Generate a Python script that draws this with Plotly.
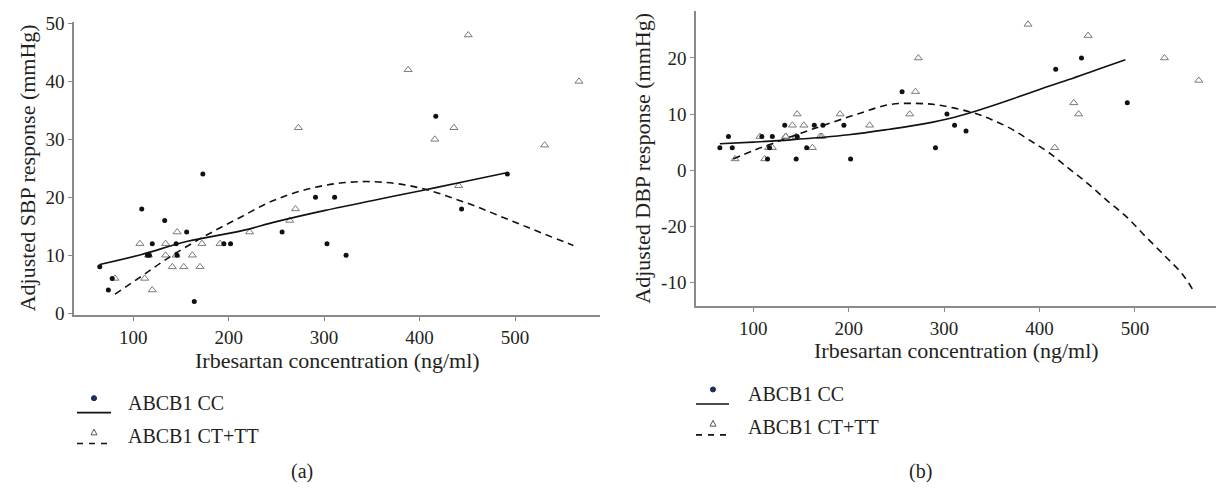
import plotly.graph_objects as go

W, H = 1216, 496

# ---------------- data ----------------
x_cc = [65, 74, 78, 109, 115, 117, 120, 133, 145, 146, 156, 164, 173, 195, 202,
        256, 291, 303, 311, 323, 417, 444, 492]
sbp_cc = [8, 4, 6, 18, 10, 10, 12, 16, 12, 10, 14, 2, 24, 12, 12,
          14, 20, 12, 20, 10, 34, 18, 24]
dbp_cc = [4, 6, 4, 6, 2, 4, 6, 8, 2, 6, 4, 8, 8, 8, 2,
          14, 4, 10, 8, 7, 18, 20, 12]

x_ct = [81, 107, 112, 116, 120, 134, 134, 141, 146, 145, 153, 162, 170, 172, 191,
        222, 264, 270, 273, 388, 416, 436, 441, 451, 531, 567]
sbp_ct = [6, 12, 6, 10, 4, 12, 10, 8, 14, 10, 8, 10, 8, 12, 12,
          14, 16, 18, 32, 42, 30, 32, 22, 48, 29, 40]
dbp_ct = [2, 6, 2, 4, 4, 6, 6, 8, 10, 6, 8, 4, 6, 6, 10,
          8, 10, 14, 20, 26, 4, 12, 10, 24, 20, 16]

# fitted curves
sbp_cc_fit_x = [65, 108, 157, 213, 250, 300, 350, 400, 450, 490]
sbp_cc_fit_y = [8.4, 10.1, 12.4, 14.2, 15.8, 17.7, 19.4, 21.1, 22.8, 24.2]
sbp_ct_fit_x = [81, 108, 130, 157, 185, 213, 242, 266, 290, 314, 338, 362, 386,
                410, 434, 458, 482, 506, 530, 561]
sbp_ct_fit_y = [3.3, 6.3, 8.8, 11.6, 14.2, 16.6, 19.1, 20.6, 21.7, 22.4, 22.7, 22.6,
                22.1, 21.2, 19.9, 18.5, 16.9, 15.3, 13.7, 11.7]

dbp_cc_fit_x = [65, 100, 139, 200, 243, 280, 310, 340, 370, 400, 430, 460, 490]
dbp_cc_fit_y = [4.7, 5.0, 5.4, 6.3, 7.3, 8.3, 9.4, 10.9, 12.6, 14.4, 16.1, 17.9, 19.7]
dbp_ct_fit_x = [79, 100, 121, 150, 174, 209, 243, 270, 290, 310, 333, 350, 370, 390,
                410, 430, 450, 470, 491, 511, 532, 550, 562]
dbp_ct_fit_y = [2.0, 3.5, 4.8, 6.6, 8.0, 10.0, 11.7, 11.9, 11.7, 11.1, 10.1, 9.0, 7.4,
                5.3, 3.1, 0.4, -2.3, -5.3, -8.3, -11.8, -15.4, -18.6, -21.7]

x_ticks = [100, 200, 300, 400, 500]
sbp_ticks = [0, 10, 20, 30, 40, 50]
dbp_tickvals = [20, 10, 0, -10, -20]
dbp_ticktext = ["20", "10", "0", "-20", "-10"]

series_names = ["ABCB1 CC", "ABCB1 CT+TT"]
panel_labels = ["(a)", "(b)"]
x_title = "Irbesartan concentration (ng/ml)"
y_titles = ["Adjusted SBP response (mmHg)", "Adjusted DBP response (mmHg)"]

# ---------------- styling ----------------
FONT = "'Liberation Serif', 'DejaVu Serif', serif"
TXT = "#231f20"
AX = "#8a8a8a"


def px(x):
    return x / W


def py(y):
    return 1 - y / H


fig = go.Figure()

dot = dict(symbol="circle", size=5, color="#111")
tri = dict(symbol="triangle-up-open", size=7, color="#7a7a7a", line=dict(width=1))

for xa, ya, ycc, yct, fcx, fcy, ftx, fty in [
    ("x", "y", sbp_cc, sbp_ct, sbp_cc_fit_x, sbp_cc_fit_y, sbp_ct_fit_x, sbp_ct_fit_y),
    ("x2", "y2", dbp_cc, dbp_ct, dbp_cc_fit_x, dbp_cc_fit_y, dbp_ct_fit_x, dbp_ct_fit_y),
]:
    fig.add_trace(go.Scatter(x=x_ct, y=yct, mode="markers", marker=tri,
                             xaxis=xa, yaxis=ya, showlegend=False))
    fig.add_trace(go.Scatter(x=x_cc, y=ycc, mode="markers", marker=dot,
                             xaxis=xa, yaxis=ya, showlegend=False))
    fig.add_trace(go.Scatter(x=fcx, y=fcy, mode="lines", line=dict(color="#111", width=1.6, shape="spline"),
                             xaxis=xa, yaxis=ya, showlegend=False))
    fig.add_trace(go.Scatter(x=ftx, y=fty, mode="lines",
                             line=dict(color="#111", width=1.6, dash="7px,5px", shape="spline"),
                             xaxis=xa, yaxis=ya, showlegend=False))

axis_common = dict(showgrid=False, zeroline=False, showline=True, linecolor=AX, linewidth=1.5,
                   ticks="outside", ticklen=4, tickcolor=AX, tickwidth=1,
                   tickfont=dict(family=FONT, size=19, color=TXT))

fig.update_layout(
    width=W, height=H,
    margin=dict(l=0, r=0, t=0, b=0),
    paper_bgcolor="white", plot_bgcolor="white",
    showlegend=False,
    font=dict(family=FONT, color=TXT),
    xaxis=dict(domain=[px(74), px(600)], range=[38, 589], tickvals=x_ticks, anchor="y", **axis_common),
    yaxis=dict(domain=[py(318), py(14)], range=[-0.33, 50.33], tickvals=sbp_ticks, anchor="x", **axis_common),
    xaxis2=dict(domain=[px(696), 1.0], range=[40, 585], tickvals=x_ticks, anchor="y2", **axis_common),
    yaxis2=dict(domain=[py(309), py(3)], range=[-24.3, 28.4], tickvals=dbp_tickvals,
                ticktext=dbp_ticktext, anchor="x2", **axis_common),
)

ann = []
TS = 22
# axis titles
ann.append(dict(x=px(337), y=py(365), text=x_title, showarrow=False, xref="paper", yref="paper",
                font=dict(family=FONT, size=TS, color=TXT), xanchor="center", yanchor="middle"))
ann.append(dict(x=px(956), y=py(355), text=x_title, showarrow=False, xref="paper", yref="paper",
                font=dict(family=FONT, size=TS, color=TXT), xanchor="center", yanchor="middle"))
ann.append(dict(x=px(27), y=py(166), text=y_titles[0], showarrow=False, xref="paper", yref="paper",
                textangle=-90, font=dict(family=FONT, size=TS, color=TXT), xanchor="center", yanchor="middle"))
ann.append(dict(x=px(643), y=py(156), text=y_titles[1], showarrow=False, xref="paper", yref="paper",
                textangle=-90, font=dict(family=FONT, size=TS, color=TXT), xanchor="center", yanchor="middle"))

shapes = []
LS = 20
# legends
for (dx, lx0, lx1, tx, y_dot, y_l1, y_t1, y_tri, y_l2, y_t2) in [
    (94, 77, 111, 126, 404, 419, 409, 439, 451, 443),
    (713, 696, 729, 746, 395, 410, 400, 430, 442, 434),
]:
    r = 2.6
    shapes.append(dict(type="circle", xref="paper", yref="paper",
                       x0=px(dx - r), x1=px(dx + r), y0=py(y_dot + r), y1=py(y_dot - r),
                       fillcolor="#1b2f5c", line=dict(color="#1b2f5c", width=1)))
    shapes.append(dict(type="line", xref="paper", yref="paper",
                       x0=px(lx0), x1=px(lx1), y0=py(y_l1), y1=py(y_l1),
                       line=dict(color="#111", width=1.6)))
    shapes.append(dict(type="path", xref="paper", yref="paper",
                       path=f"M {px(dx-3)} {py(y_tri+3)} L {px(dx+3)} {py(y_tri+3)} L {px(dx)} {py(y_tri-3)} Z",
                       line=dict(color="#555", width=1)))
    shapes.append(dict(type="line", xref="paper", yref="paper",
                       x0=px(lx0), x1=px(lx1), y0=py(y_l2), y1=py(y_l2),
                       line=dict(color="#111", width=1.6, dash="6px,6px")))
    ann.append(dict(x=px(tx), y=py(y_t1), text=series_names[0], showarrow=False, xref="paper", yref="paper",
                    font=dict(family=FONT, size=LS, color=TXT), xanchor="left", yanchor="middle"))
    ann.append(dict(x=px(tx), y=py(y_t2), text=series_names[1], showarrow=False, xref="paper", yref="paper",
                    font=dict(family=FONT, size=LS, color=TXT), xanchor="left", yanchor="middle"))

ann.append(dict(x=px(302), y=py(480), text=panel_labels[0], showarrow=False, xref="paper", yref="paper",
                font=dict(family=FONT, size=LS, color=TXT), xanchor="center", yanchor="middle"))
ann.append(dict(x=px(920), y=py(480), text=panel_labels[1], showarrow=False, xref="paper", yref="paper",
                font=dict(family=FONT, size=LS, color=TXT), xanchor="center", yanchor="middle"))

fig.update_layout(annotations=ann, shapes=shapes)
fig.write_html("out.html", config={"displayModeBar": False},
               post_script="document.body.style.margin='0';document.body.style.overflow='hidden';")
